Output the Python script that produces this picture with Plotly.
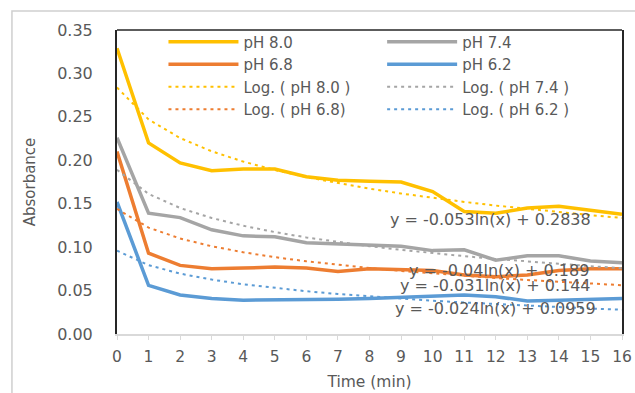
import numpy as np
import plotly.graph_objects as go

time_min = list(range(17))
ph80 = [0.329, 0.220, 0.197, 0.188, 0.190, 0.190, 0.181, 0.177, 0.176, 0.175, 0.164, 0.141, 0.139, 0.145, 0.147, 0.142, 0.138]
ph74 = [0.226, 0.139, 0.134, 0.120, 0.113, 0.112, 0.105, 0.104, 0.103, 0.101, 0.096, 0.097, 0.085, 0.090, 0.090, 0.084, 0.082]
ph68 = [0.210, 0.093, 0.079, 0.075, 0.076, 0.077, 0.076, 0.072, 0.075, 0.074, 0.073, 0.068, 0.066, 0.068, 0.073, 0.075, 0.075]
ph62 = [0.152, 0.056, 0.045, 0.041, 0.039, 0.039, 0.039, 0.040, 0.041, 0.042, 0.043, 0.045, 0.043, 0.038, 0.039, 0.040, 0.041]

series_names = ["pH 8.0", "pH 7.4", "pH 6.8", "pH 6.2"]
trend_names = ["Log. ( pH 8.0 )", "Log. ( pH 7.4 )", "Log. ( pH 6.8)", "Log. ( pH 6.2 )"]
trend_slope = [-0.053, -0.04, -0.031, -0.024]
trend_intercept = [0.2838, 0.189, 0.144, 0.0959]
equation_labels = ["y = -0.053ln(x) + 0.2838", "y = -0.04ln(x) + 0.189",
                   "y = -0.031ln(x) + 0.144", "y = -0.024ln(x) + 0.0959"]
equation_pos = [(11.82, 0.1324), (12.09, 0.0729), (11.98, 0.0553), (12.0, 0.0296)]

colors = ["#FFC000", "#A5A5A5", "#ED7D31", "#5B9BD5"]
legend_ids = ["legend", "legend2", "legend", "legend2"]
values = [ph80, ph74, ph68, ph62]

FONT = "DejaVu Sans"
TXT = "#595959"

fig = go.Figure()
for i in range(4):
    fig.add_trace(go.Scatter(
        x=time_min, y=values[i], mode="lines", name=series_names[i],
        line=dict(color=colors[i], width=3.5), legend=legend_ids[i],
        legendgroup="s%d" % i, legendrank=i))
xs = np.array(time_min, dtype=float)
for i in range(4):
    trend = trend_slope[i] * np.log(xs + 1) + trend_intercept[i]
    fig.add_trace(go.Scatter(
        x=time_min, y=trend, mode="lines", name=trend_names[i],
        line=dict(color=colors[i], width=2, dash="3px,4px"), legend=legend_ids[i],
        legendgroup="t%d" % i, legendrank=10 + i))

for lab, (ex, ey) in zip(equation_labels, equation_pos):
    fig.add_annotation(x=ex, y=ey, text=lab, showarrow=False,
                       font=dict(family=FONT, size=16, color=TXT))

# top border of plot area
fig.add_shape(type="line", xref="x domain", yref="y domain", x0=0, x1=1, y0=1, y1=1,
              line=dict(color="#262626", width=1.5))
# outer chart border
fig.add_shape(type="rect", xref="paper", yref="paper", x0=-0.208, x1=1.05, y0=-0.25, y1=1.0625,
              line=dict(color="#CFCFCF", width=1.5))

leg_common = dict(bgcolor="rgba(0,0,0,0)", font=dict(family=FONT, size=15, color=TXT),
                  traceorder="grouped", tracegroupgap=0, itemwidth=70,
                  yanchor="top", y=1.015, xanchor="left")
fig.update_layout(
    width=635, height=393,
    margin=dict(l=117, r=13, t=30, b=59, autoexpand=False),
    paper_bgcolor="white", plot_bgcolor="white",
    font=dict(family=FONT, color=TXT),
    showlegend=True,
    legend=dict(x=0.092, **leg_common),
    legend2=dict(x=0.525, **leg_common),
    xaxis=dict(range=[0, 16], tickvals=time_min, ticktext=[str(t) for t in time_min],
               showline=True, linecolor="#D9D9D9", linewidth=1.5, automargin=False,
               ticks="outside", ticklen=4, tickcolor="#D9D9D9", ticklabelstandoff=4,
               showgrid=False, zeroline=False,
               tickfont=dict(family=FONT, size=15.5, color=TXT),
               title=dict(text="Time (min)", font=dict(family=FONT, size=15.5, color=TXT), standoff=11)),
    yaxis=dict(range=[0, 0.35], dtick=0.05, tickformat=".2f", automargin=False,
               showline=True, mirror=True, linecolor="#262626", linewidth=2,
               showgrid=False, zeroline=False, ticklabelstandoff=19,
               tickfont=dict(family=FONT, size=16, color=TXT),
               title=dict(text="Absorbance", font=dict(family=FONT, size=15, color=TXT), standoff=18)),
)

fig.write_html("out.html", config={"displayModeBar": False},
               post_script="document.body.style.margin='0px';")
